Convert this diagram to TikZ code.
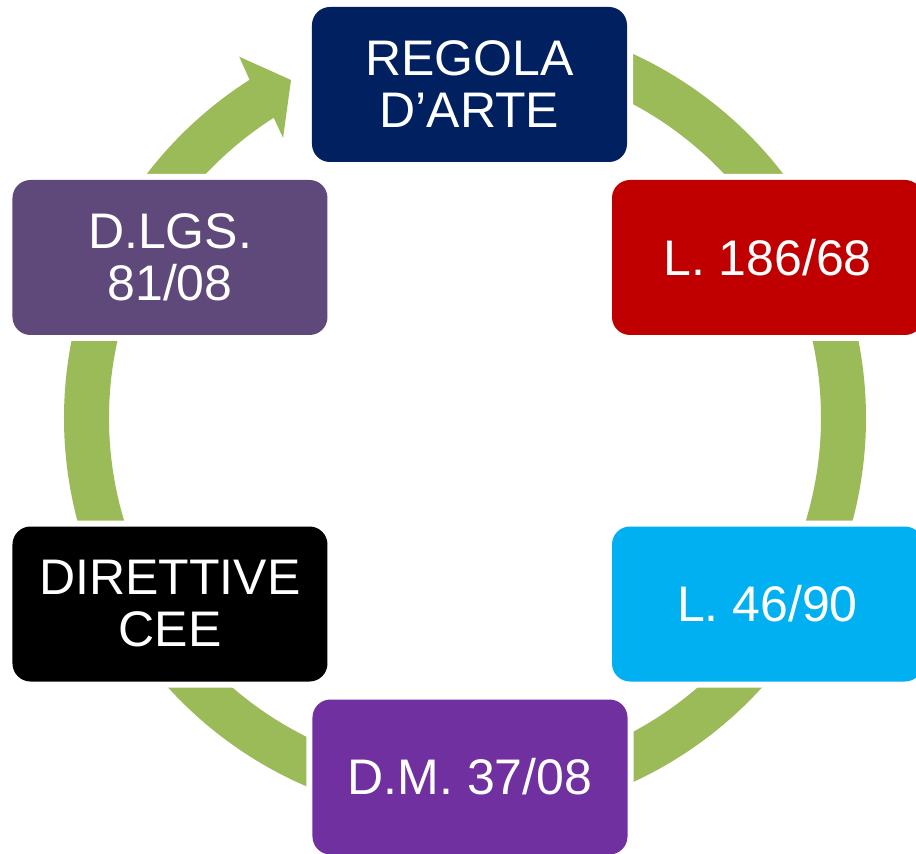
\documentclass[tikz,border=0pt]{standalone}
\usepackage{fontspec}
\setmainfont{Liberation Sans}
\definecolor{cgreen}{HTML}{9BBB59}
\definecolor{cnavy}{HTML}{002060}
\definecolor{cred}{HTML}{C00000}
\definecolor{ccyan}{HTML}{00B0F0}
\definecolor{cpurple}{HTML}{7030A0}
\definecolor{cplum}{HTML}{5F497A}
\tikzset{
  stagebox/.style={rounded corners=18pt, inner sep=0pt, align=center, text=white,
    font=\fontsize{50}{52}\selectfont,
    preaction={draw=white, line width=12pt}},
  widebox/.style={stagebox, minimum width=315pt, minimum height=155pt},
  rightbox/.style={stagebox, minimum width=311pt, minimum height=155pt},
  ring/.style={draw=cgreen, line width=45pt},
}
\begin{document}
\begin{tikzpicture}[x=1pt,y=1pt]
\useasboundingbox (-465,-436) rectangle (451,418);
% green ring segments
\draw[ring] (80:378.5pt) arc[start angle=80, end angle=30, radius=378.5pt];
\draw[ring] (20:378.5pt) arc[start angle=20, end angle=-20, radius=378.5pt];
\draw[ring] (-30:378.5pt) arc[start angle=-30, end angle=-80, radius=378.5pt];
\draw[ring] (-100:378.5pt) arc[start angle=-100, end angle=-150, radius=378.5pt];
\draw[ring] (200:378.5pt) arc[start angle=200, end angle=160, radius=378.5pt];
\fill[cgreen] (150:401pt) arc[start angle=150, end angle=122.5, radius=401pt]
  -- (122:426pt) -- (-174,338) -- (123:334pt) -- (122.5:356pt)
  arc[start angle=122.5, end angle=150, radius=356pt] -- cycle;
% boxes
\node[widebox, fill=cnavy] (regola) at (4.5,333.5) {REGOLA\\D’ARTE};
\node[rightbox, fill=cred] (l186) at (302.5,160.5) {L. 186/68};
\node[rightbox, fill=ccyan] (l46) at (302.5,-186) {L. 46/90};
\node[widebox, fill=cpurple] (dm) at (5,-359) {D.M. 37/08};
\node[widebox, fill=black] (dir) at (-295,-186) {DIRETTIVE\\CEE};
\node[widebox, fill=cplum] (dlgs) at (-295,160.5) {D.LGS.\\81/08};
\end{tikzpicture}
\end{document}
